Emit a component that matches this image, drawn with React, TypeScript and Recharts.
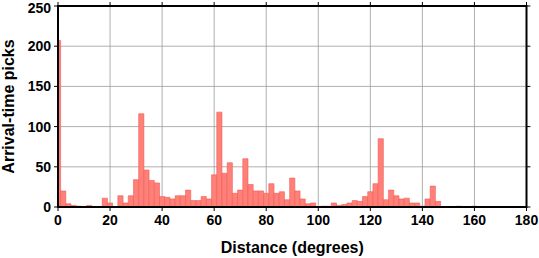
import { BarChart, Bar, XAxis, YAxis, CartesianGrid, ReferenceArea, ReferenceLine } from 'recharts';

// bin centres (degrees), 2-degree bins
const distanceBins = [
  0, 2, 4, 6, 8, 10, 12, 14, 16, 18, 20, 22, 24, 26, 28, 30, 32, 34, 36, 38,
  40, 42, 44, 46, 48, 50, 52, 54, 56, 58, 60, 62, 64, 66, 68, 70, 72, 74, 76, 78,
  80, 82, 84, 86, 88, 90, 92, 94, 96, 98, 100, 102, 104, 106, 108, 110, 112, 114, 116, 118,
  120, 122, 124, 126, 128, 130, 132, 134, 136, 138, 140, 142, 144, 146, 148, 150, 152, 154, 156, 158,
  160, 162, 164, 166, 168, 170, 172, 174, 176, 178, 180,
];

const pickCounts = [
  207, 20, 4, 2, 1, 0, 2, 0, 0, 11, 5, 0, 14, 5, 14, 34, 116, 46, 33, 30,
  13, 12, 10, 14, 14, 21, 8, 8, 13, 10, 40, 118, 42, 55, 17, 21, 60, 28, 20, 20,
  17, 29, 17, 19, 9, 36, 20, 10, 4, 5, 0, 1, 1, 5, 2, 3, 5, 8, 7, 13,
  19, 29, 85, 9, 21, 14, 10, 11, 5, 5, 1, 10, 26, 7, 0, 0, 0, 1, 0, 0,
  1, 0, 0, 0, 0, 0, 0, 0, 0, 0, 0,
];

const xTicks = [0, 20, 40, 60, 80, 100, 120, 140, 160, 180];
const yTicks = [0, 50, 100, 150, 200, 250];

const data = distanceBins.map((d, i) => ({ distance: d, picks: pickCounts[i] }));

const font = 'Liberation Sans, Arial, Helvetica, sans-serif';
const tickStyle = { fill: '#000', fontSize: 14, fontWeight: 700, fontFamily: font };
const frame = { stroke: '#000', strokeWidth: 2 };
const tickLine = { stroke: '#000', strokeWidth: 1 };

export default function App() {
  return (
    <div style={{ position: 'fixed', top: 0, left: 0, width: 539, height: 258, background: '#fff' }}>
      <BarChart
        width={539}
        height={258}
        data={data}
        margin={{ top: 6, right: 12.5, left: 0, bottom: 0 }}
        barCategoryGap={0}
        barGap={0}
      >
        <CartesianGrid stroke="#9a9a9a" strokeWidth={0.8} />
        <XAxis
          dataKey="distance"
          type="number"
          domain={[0, 180]}
          ticks={xTicks}
          allowDataOverflow
          height={51}
          tick={tickStyle}
          tickSize={4}
          tickMargin={4}
          axisLine={frame}
          tickLine={tickLine}
          label={{
            value: 'Distance (degrees)',
            position: 'insideBottom',
            offset: 5,
            fill: '#000',
            fontSize: 16,
            fontWeight: 700,
            fontFamily: font,
          }}
        />
        <YAxis
          type="number"
          domain={[0, 250]}
          ticks={yTicks}
          allowDataOverflow
          width={58}
          tick={tickStyle}
          tickSize={4}
          tickMargin={3}
          axisLine={frame}
          tickLine={tickLine}
          label={{
            value: 'Arrival-time picks',
            angle: -90,
            position: 'insideLeft',
            offset: 8,
            fill: '#000',
            fontSize: 16,
            fontWeight: 700,
            fontFamily: font,
            style: { textAnchor: 'middle' },
          }}
        />
        <Bar
          dataKey="picks"
          fill="#ff8077"
          stroke="#f05a5a"
          strokeWidth={0.6}
          barSize={5.2}
          isAnimationActive={false}
        />

        {/* frame round the plot, top and right */}
        <ReferenceArea
          x1={0}
          x2={180}
          y1={0}
          y2={250}
          fill="none"
          stroke="#000"
          strokeWidth={2}
          fillOpacity={0}
          ifOverflow="visible"
        />
        {/* outward ticks on the top edge */}
        {xTicks.map((t) => (
          <ReferenceLine
            key={`tt${t}`}
            segment={[{ x: t, y: 250 }, { x: t, y: 255 }]}
            stroke="#000"
            strokeWidth={1}
            ifOverflow="visible"
          />
        ))}
        {/* outward ticks on the right edge */}
        {yTicks.map((t) => (
          <ReferenceLine
            key={`rt${t}`}
            segment={[{ x: 180, y: t }, { x: 181.5, y: t }]}
            stroke="#000"
            strokeWidth={1}
            ifOverflow="visible"
          />
        ))}
      </BarChart>
    </div>
  );
}
